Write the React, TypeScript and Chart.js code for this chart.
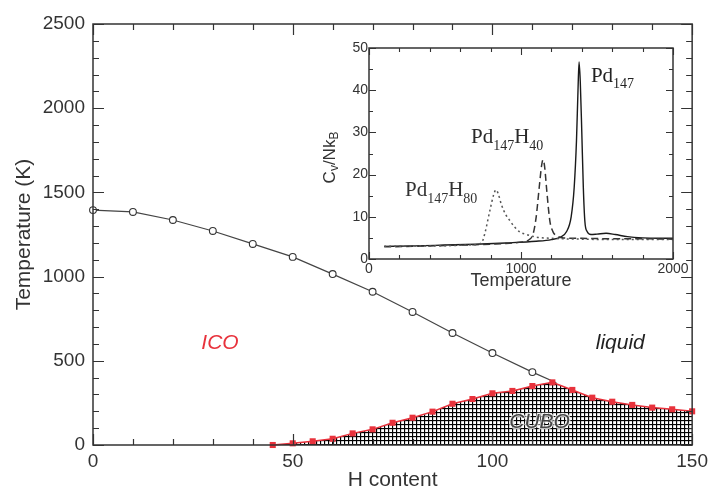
import React, { useEffect, useRef } from 'react';
import { Chart, registerables } from 'chart.js';
Chart.register(...registerables);

// ---------- main phase diagram data ----------
const liquidH = [0, 10, 20, 30, 40, 50, 60, 70, 80, 90, 100, 110, 116];
const liquidT = [1395, 1384, 1336, 1271, 1194, 1117, 1015, 910, 790, 665, 546, 433, 370];
const cuboH = [45, 50, 55, 60, 65, 70, 75, 80, 85, 90, 95, 100, 105, 110, 115, 120, 125, 130, 135, 140, 145, 150];
const cuboT = [0, 10, 22, 37, 69, 93, 132, 162, 198, 245, 273, 307, 321, 350, 372, 327, 281, 257, 238, 222, 212, 200];
const mainXTicks = [0, 50, 100, 150];
const mainYTicks = [0, 500, 1000, 1500, 2000, 2500];

// ---------- inset heat-capacity data ----------
const pdT = [100, 300, 500, 700, 900, 1100, 1200, 1260, 1300, 1330, 1350, 1365, 1375, 1382, 1390, 1400, 1410, 1420, 1435, 1460, 1500, 1560, 1620, 1700, 1800, 1900, 2000];
const pdCv = [3.0, 3.1, 3.3, 3.5, 3.8, 4.2, 4.6, 5.2, 6.5, 10, 17, 28, 40, 46.7, 42, 30, 17, 9, 6.5, 5.8, 5.9, 6.1, 5.8, 5.3, 5.0, 4.9, 4.9];
const h40T = [100, 300, 500, 700, 900, 1000, 1050, 1080, 1100, 1120, 1135, 1145, 1155, 1170, 1190, 1210, 1240, 1280, 1400, 1600, 1800, 2000];
const h40Cv = [2.9, 3.0, 3.2, 3.4, 3.7, 4.0, 4.5, 6, 10, 17, 22, 23.5, 22, 16, 9, 6.5, 5.4, 5.0, 4.9, 4.8, 4.8, 4.7];
const h80T = [100, 400, 700, 743, 763, 796, 820, 835, 850, 870, 900, 925, 960, 993, 1046, 1100, 1200, 1400, 1600, 1800, 2000];
const h80Cv = [3.0, 3.1, 3.4, 4, 6.2, 11.6, 15.2, 16.4, 15.5, 13, 10.5, 9.2, 7.5, 6.4, 5.7, 5.2, 4.9, 4.7, 4.6, 4.6, 4.6];
const insetXTicks = [0, 1000, 2000];
const insetYTicks = [0, 10, 20, 30, 40, 50];

const SANS = '"Liberation Sans", Arial, Helvetica, sans-serif';
const SERIF = '"Liberation Serif", "Times New Roman", serif';
const INK = '#333';
const RED = '#e8323c';

function makeGridPattern(): CanvasPattern | string {
  const c = document.createElement('canvas');
  c.width = 4;
  c.height = 4;
  const g = c.getContext('2d');
  if (!g) return '#888';
  g.fillStyle = '#fff';
  g.fillRect(0, 0, 4, 4);
  g.fillStyle = 'rgba(0,0,0,0.15)';
  g.fillRect(0, 1, 4, 1);
  g.fillRect(1, 0, 1, 4);
  g.fillStyle = '#000';
  g.fillRect(0, 0, 4, 1);
  g.fillRect(0, 0, 1, 4);
  return g.createPattern(c, 'repeat') || '#888';
}

const isMultiple = (v: number, step: number) => Math.abs(v / step - Math.round(v / step)) < 1e-6;

const framePlugin = {
  id: 'frame',
  afterDatasetsDraw(chart: any, _args: any, o: any) {
    const { ctx, chartArea } = chart;
    const { left, right, top, bottom } = chartArea;
    const xs = chart.scales.x;
    const ys = chart.scales.y;
    ctx.save();
    ctx.strokeStyle = o.color;
    ctx.lineWidth = o.tickWidth;
    ctx.beginPath();
    for (let v = xs.min; v <= xs.max + 1e-9; v += o.xMinor) {
      const px = Math.round(xs.getPixelForValue(v)) + 0.5;
      const len = isMultiple(v, o.xMajor) ? o.majorLen : o.minorLen;
      ctx.moveTo(px, bottom);
      ctx.lineTo(px, bottom - len);
      ctx.moveTo(px, top);
      ctx.lineTo(px, top + len);
    }
    for (let v = ys.min; v <= ys.max + 1e-9; v += o.yMinor) {
      const py = Math.round(ys.getPixelForValue(v)) + 0.5;
      const len = isMultiple(v, o.yMajor) ? o.majorLen : o.minorLen;
      ctx.moveTo(left, py);
      ctx.lineTo(left + len, py);
      ctx.moveTo(right, py);
      ctx.lineTo(right - len, py);
    }
    ctx.stroke();
    ctx.lineWidth = o.lineWidth;
    ctx.strokeRect(left, top, right - left, bottom - top);
    ctx.restore();
  },
};

const mainLabelsPlugin = {
  id: 'mainLabels',
  afterDatasetsDraw(chart: any) {
    const { ctx } = chart;
    const xs = chart.scales.x;
    const ys = chart.scales.y;
    ctx.save();
    ctx.textAlign = 'center';
    ctx.textBaseline = 'middle';
    ctx.font = `italic 21px ${SANS}`;
    ctx.fillStyle = RED;
    ctx.fillText('ICO', xs.getPixelForValue(31.8), ys.getPixelForValue(606));
    ctx.fillStyle = '#222';
    ctx.fillText('liquid', xs.getPixelForValue(132), ys.getPixelForValue(606));
    const cx = xs.getPixelForValue(111.8);
    const cy = ys.getPixelForValue(137);
    ctx.lineWidth = 2.5;
    ctx.strokeStyle = 'rgba(255,255,255,0.75)';
    ctx.strokeText('CUBO', cx, cy);
    ctx.fillStyle = 'rgba(60,60,60,0.95)';
    ctx.fillText('CUBO', cx, cy);
    ctx.restore();
  },
};

type Part = [string, boolean];

function richWidth(ctx: CanvasRenderingContext2D, parts: Part[], big: string, small: string) {
  let w = 0;
  for (const [t, sub] of parts) {
    ctx.font = sub ? small : big;
    w += ctx.measureText(t).width;
  }
  return w;
}

function drawRich(ctx: CanvasRenderingContext2D, x: number, y: number, parts: Part[], big: string, small: string, shift: number) {
  let cx = x;
  for (const [t, sub] of parts) {
    ctx.font = sub ? small : big;
    ctx.fillText(t, cx, sub ? y + shift : y);
    cx += ctx.measureText(t).width;
  }
}

const pd147: Part[] = [['Pd', false], ['147', true]];
const pd147H40: Part[] = [['Pd', false], ['147', true], ['H', false], ['40', true]];
const pd147H80: Part[] = [['Pd', false], ['147', true], ['H', false], ['80', true]];
const cvTitle: Part[] = [['C', false], ['v', true], ['/Nk', false], ['B', true]];

const insetLabelsPlugin = {
  id: 'insetLabels',
  beforeDatasetsDraw(chart: any) {
    const { ctx, chartArea } = chart;
    ctx.save();
    ctx.fillStyle = '#fff';
    ctx.fillRect(chartArea.left, chartArea.top, chartArea.right - chartArea.left, chartArea.bottom - chartArea.top);
    ctx.restore();
  },
  afterDatasetsDraw(chart: any) {
    const { ctx, chartArea } = chart;
    const xs = chart.scales.x;
    const ys = chart.scales.y;
    ctx.save();
    ctx.textBaseline = 'alphabetic';
    ctx.textAlign = 'left';
    const big = `21px ${SERIF}`;
    const small = `14px ${SERIF}`;
    ctx.fillStyle = '#222';
    drawRich(ctx, xs.getPixelForValue(1460), ys.getPixelForValue(41.9), pd147, big, small, 6);
    ctx.fillStyle = '#2a2a2a';
    drawRich(ctx, xs.getPixelForValue(671), ys.getPixelForValue(27.5), pd147H40, big, small, 7);
    ctx.fillStyle = '#333';
    drawRich(ctx, xs.getPixelForValue(237), ys.getPixelForValue(14.9), pd147H80, big, small, 7);

    // rotated y title with subscripts
    const tb = `17px ${SANS}`;
    const ts = `12px ${SANS}`;
    const cy = (chartArea.top + chartArea.bottom) / 2 + 4;
    ctx.translate(30, cy);
    ctx.rotate(-Math.PI / 2);
    ctx.fillStyle = INK;
    ctx.textBaseline = 'middle';
    const w = richWidth(ctx, cvTitle, tb, ts);
    drawRich(ctx, -w / 2, 0, cvTitle, tb, ts, 5);
    ctx.restore();
  },
};

export default function App() {
  const mainRef = useRef<HTMLCanvasElement>(null);
  const insetRef = useRef<HTMLCanvasElement>(null);

  useEffect(() => {
    document.body.style.margin = '0';
    const grid = makeGridPattern();

    const main = new Chart(mainRef.current as HTMLCanvasElement, {
      type: 'line',
      data: {
        datasets: [
          {
            data: cuboH.map((h, i) => ({ x: h, y: cuboT[i] })),
            borderColor: RED,
            borderWidth: 1.5,
            backgroundColor: grid as any,
            fill: 'origin',
            pointStyle: 'rect',
            pointRadius: 4.3,
            pointBackgroundColor: RED,
            pointBorderColor: RED,
            pointBorderWidth: 0,
            tension: 0,
            clip: false,
          },
          {
            data: liquidH.map((h, i) => ({ x: h, y: liquidT[i] })),
            borderColor: '#444',
            borderWidth: 1.2,
            fill: false,
            pointStyle: 'circle',
            pointRadius: liquidH.map((_, i) => (i === liquidH.length - 1 ? 0 : 3.4)),
            pointBackgroundColor: '#fff',
            pointBorderColor: '#333',
            pointBorderWidth: 1.1,
            tension: 0,
            clip: false,
          },
        ],
      },
      options: {
        responsive: false,
        animation: false,
        devicePixelRatio: 1,
        events: [],
        layout: { padding: { top: 24, right: 20, left: 0, bottom: 0 } },
        plugins: {
          legend: { display: false },
          tooltip: { enabled: false },
          frame: { color: INK, lineWidth: 1.5, tickWidth: 1.2, xMajor: 50, xMinor: 10, yMajor: 500, yMinor: 100, majorLen: 11, minorLen: 6 },
        } as any,
        scales: {
          x: {
            type: 'linear',
            min: 0,
            max: 150,
            afterBuildTicks: (s: any) => {
              s.ticks = mainXTicks.map((v) => ({ value: v }));
            },
            afterFit: (s: any) => {
              s.height = 46;
            },
            grid: { display: false, drawTicks: false, tickLength: 0 },
            border: { display: false },
            ticks: { font: { size: 19, family: SANS }, color: INK, padding: 5, maxRotation: 0, autoSkip: false, callback: (v: any) => String(v) },
            title: { display: true, text: 'H content', color: INK, font: { size: 21, family: SANS, lineHeight: 1 }, padding: { top: 0, bottom: 0 } },
          },
          y: {
            type: 'linear',
            min: 0,
            max: 2500,
            afterBuildTicks: (s: any) => {
              s.ticks = mainYTicks.map((v) => ({ value: v }));
            },
            afterFit: (s: any) => {
              s.width = 93;
            },
            grid: { display: false, drawTicks: false, tickLength: 0 },
            border: { display: false },
            ticks: { font: { size: 19, family: SANS }, color: INK, padding: 8, autoSkip: false, callback: (v: any) => String(v) },
            title: { display: true, text: 'Temperature (K)', color: INK, font: { size: 21, family: SANS, lineHeight: 1 }, padding: { top: 14, bottom: 0 } },
          },
        },
      },
      plugins: [framePlugin, mainLabelsPlugin],
    });

    const inset = new Chart(insetRef.current as HTMLCanvasElement, {
      type: 'line',
      data: {
        datasets: [
          {
            data: h80T.map((t, i) => ({ x: t, y: h80Cv[i] })),
            borderColor: '#555',
            borderWidth: 1.5,
            borderDash: [2, 3],
            pointRadius: 0,
            fill: false,
            cubicInterpolationMode: 'monotone',
          },
          {
            data: h40T.map((t, i) => ({ x: t, y: h40Cv[i] })),
            borderColor: '#333',
            borderWidth: 1.5,
            borderDash: [7, 4],
            pointRadius: 0,
            fill: false,
            cubicInterpolationMode: 'monotone',
          },
          {
            data: pdT.map((t, i) => ({ x: t, y: pdCv[i] })),
            borderColor: '#1a1a1a',
            borderWidth: 1.4,
            pointRadius: 0,
            fill: false,
            cubicInterpolationMode: 'monotone',
          },
        ],
      },
      options: {
        responsive: false,
        animation: false,
        devicePixelRatio: 1,
        events: [],
        layout: { padding: { top: 18, right: 27, left: 0, bottom: 0 } },
        plugins: {
          legend: { display: false },
          tooltip: { enabled: false },
          frame: { color: INK, lineWidth: 1.5, tickWidth: 1.1, xMajor: 1000, xMinor: 200, yMajor: 10, yMinor: 5, majorLen: 7, minorLen: 4 },
        } as any,
        scales: {
          x: {
            type: 'linear',
            min: 0,
            max: 2000,
            afterBuildTicks: (s: any) => {
              s.ticks = insetXTicks.map((v) => ({ value: v }));
            },
            afterFit: (s: any) => {
              s.height = 41;
            },
            grid: { display: false, drawTicks: false, tickLength: 0 },
            border: { display: false },
            ticks: { font: { size: 14, family: SANS }, color: INK, padding: 2, maxRotation: 0, autoSkip: false, callback: (v: any) => String(v) },
            title: { display: true, text: 'Temperature', color: INK, font: { size: 18, family: SANS, lineHeight: 1 }, padding: { top: 0, bottom: 10 } },
          },
          y: {
            type: 'linear',
            min: 0,
            max: 50,
            afterBuildTicks: (s: any) => {
              s.ticks = insetYTicks.map((v) => ({ value: v }));
            },
            afterFit: (s: any) => {
              s.width = 69;
            },
            grid: { display: false, drawTicks: false, tickLength: 0 },
            border: { display: false },
            ticks: { font: { size: 14, family: SANS }, color: INK, padding: 1, autoSkip: false, callback: (v: any) => String(v) },
          },
        },
      },
      plugins: [insetLabelsPlugin, framePlugin],
    });

    return () => {
      main.destroy();
      inset.destroy();
    };
  }, []);

  return (
    <div style={{ position: 'relative', width: 713, height: 491, background: '#fff' }}>
      <canvas ref={mainRef} width={713} height={491} style={{ position: 'absolute', left: 0, top: 0 }} />
      <canvas ref={insetRef} width={400} height={270} style={{ position: 'absolute', left: 300, top: 30 }} />
    </div>
  );
}
